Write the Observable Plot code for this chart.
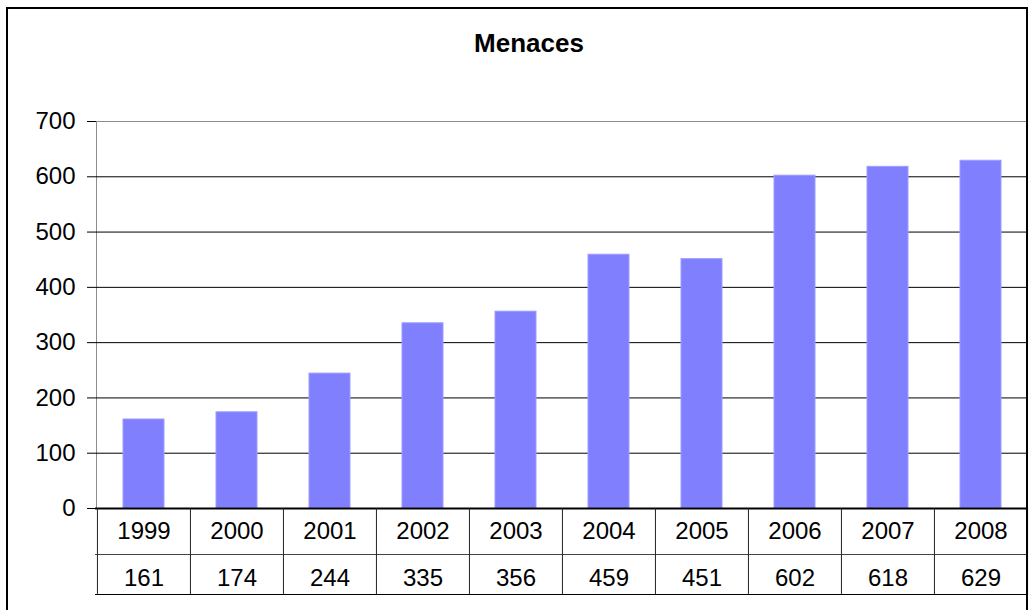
<!DOCTYPE html>
<html>
<head>
<meta charset="utf-8">
<script src="https://cdn.jsdelivr.net/npm/d3@7"></script>
<script src="https://cdn.jsdelivr.net/npm/@observablehq/plot@0.6"></script>
<style>
  html, body { margin: 0; padding: 0; background: #fff; }
  #wrap { position: relative; width: 1033px; height: 610px; overflow: hidden; background: #fff; }
  #border { position: absolute; left: 6px; top: 7px; width: 1022px; height: 620px; border: 2px solid #000; box-sizing: border-box; pointer-events: none; }
  #title { position: absolute; left: 429px; top: 30px; width: 200px; text-align: center;
           font: bold 26px/26px "Liberation Sans", Arial, sans-serif; color: #000; }
  #chart { position: absolute; left: 0; top: 0; }
  #chart svg text { font-family: "Liberation Sans", Arial, sans-serif; font-size: 24px; fill: #000; }
</style>
</head>
<body>
<div id="wrap">
  <div id="chart"></div>
  <div id="title">Menaces</div>
  <div id="border"></div>
</div>
<script>
// ---- data ----
const years = ["1999", "2000", "2001", "2002", "2003", "2004", "2005", "2006", "2007", "2008"];
const values = [161, 174, 244, 335, 356, 459, 451, 602, 618, 629];
const yTicks = [0, 100, 200, 300, 400, 500, 600, 700];

const data = years.map((year, i) => ({ year, value: values[i] }));

// ---- layout ----
const W = 1033, H = 610;
const mL = 96, mR = 6, mT = 121, mB = 102;
const frameH = H - mT - mB;
const step = (W - mL - mR) / years.length;
const row1 = 46, row2 = 86; // table row bottoms below the zero line

const chart = Plot.plot({
  width: W,
  height: H,
  marginLeft: mL,
  marginRight: mR,
  marginTop: mT,
  marginBottom: mB,
  style: { fontFamily: "Liberation Sans, Arial, sans-serif", fontSize: "24px", background: "transparent" },
  x: { domain: years, paddingInner: 0.56, paddingOuter: 0.28, axis: null },
  y: { domain: [0, 700], ticks: yTicks, tickSize: 9, tickPadding: 12, label: null, line: true, tickFormat: d => String(d) },
  marks: [
    Plot.frame({ stroke: "#8c8c8c" }),
    Plot.ruleY(yTicks.filter(d => d > 0 && d < 700), { stroke: "#000", strokeWidth: 1 }),
    Plot.barY(data, { x: "year", y: "value", fill: "#8080ff", stroke: "#9c9cff", strokeWidth: 1 }),
    // zero line and table horizontal lines
    Plot.ruleY([0], { stroke: "#000", strokeWidth: 2, insetLeft: -1 }),
    Plot.ruleY([0], { stroke: "#444", strokeWidth: 1, dy: row1, insetLeft: -1 }),
    Plot.ruleY([0], { stroke: "#000", strokeWidth: 1, dy: row2, insetLeft: -1 }),
    // table vertical lines
    Plot.ruleX(years, { x: d => d, dx: -step / 2, insetTop: frameH, insetBottom: -row2, stroke: "#222" }),
    Plot.ruleX([years[years.length - 1]], { x: d => d, dx: step / 2, insetTop: frameH, insetBottom: -row2, stroke: "#222" }),
    // table text
    Plot.text(data, { x: "year", text: d => d.year, frameAnchor: "bottom", lineAnchor: "middle", dy: 23, fontSize: 24 }),
    Plot.text(data, { x: "year", text: d => String(d.value), frameAnchor: "bottom", lineAnchor: "middle", dy: 69.5, fontSize: 24 })
  ]
});

document.getElementById("chart").appendChild(chart);
</script>
</body>
</html>
